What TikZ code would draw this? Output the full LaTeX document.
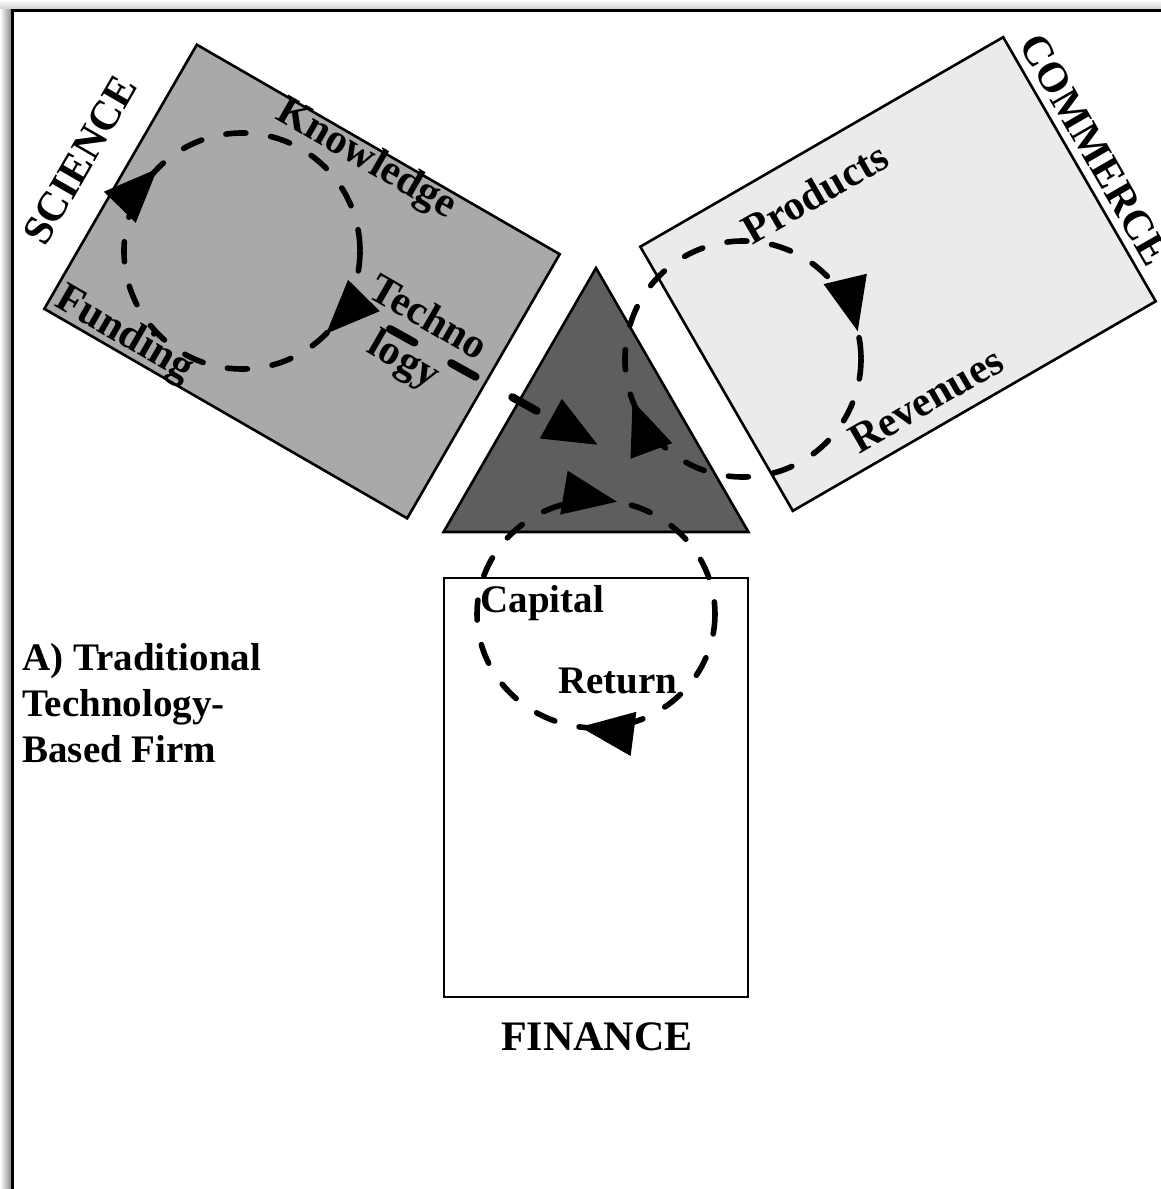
\documentclass[tikz,border=0pt]{standalone}
\usepackage{fontspec}
\setmainfont{Liberation Serif}
\usetikzlibrary{shapes.geometric,arrows.meta,decorations.markings}
\definecolor{scigray}{HTML}{A9A9A9}
\definecolor{comgray}{HTML}{EBEBEB}
\definecolor{trigray}{HTML}{5E5E5E}
\tikzset{
  blk/.style={rectangle,draw,line width=1.3pt,inner sep=0pt,minimum width=209.5pt,minimum height=152.5pt},
  tri/.style={regular polygon,regular polygon sides=3,draw,fill=trigray,line width=1.3pt,inner sep=0pt,minimum size=176pt},
  cyc/.style={line width=2.8pt,dash pattern=on 10pt off 12.5pt,line cap=round},
  tips/.style 2 args={postaction={decorate},decoration={markings,mark=at position #1 with {\arrow{>}},mark=at position #2 with {\arrow{>}}}},
  tline/.style={line width=4pt,dash pattern=on 14pt off 21pt,line cap=round},
  lbl/.style={font=\fontsize{21}{24}\selectfont\bfseries,inner sep=0pt},
  lbl2/.style={font=\fontsize{19.5}{23}\selectfont\bfseries,inner sep=0pt},
}
\begin{document}
\begin{tikzpicture}[x=0.5pt,y=-0.5pt,>={Triangle[length=27pt,width=21.5pt]}]
  \useasboundingbox (0,0) rectangle (1161,1189);
  \clip (0,0) rectangle (1161,1189);
  % frame with shadow
  \fill[top color=white,bottom color=black!18] (0,0) rectangle (1161,9);
  \fill[left color=white,right color=black!45] (0,9) rectangle (11,1189);
  \draw[line width=1.5pt] (12,1189) -- (12,10) -- (1161,10);
  % the three spheres and the firm
  \node[blk,fill=scigray,rotate=-30] (sci) at (302,281.5) {};
  \node[blk,fill=comgray,rotate=30] (com) at (898,274) {};
  \node[blk,fill=white,minimum width=152pt,minimum height=209.5pt] (fin) at (596,787.5) {};
  \node[tri] (firm) at (596,444) {};
  % labels
  \node[lbl,rotate=60] (scil) at (80,160) {SCIENCE};
  \node[lbl,rotate=-60] (coml) at (1095,150) {COMMERCE};
  \node[lbl,rotate=-30] (know) at (366,160) {Knowledge};
  \node[lbl,rotate=-30] (fund) at (124,335) {Funding};
  \node[lbl,rotate=-30,align=center] (tech) at (415,341) {Techno\\logy};
  \node[lbl,rotate=30] (prod) at (815,193) {Products};
  \node[lbl,rotate=30] (rev) at (926,400) {Revenues};
  \node[lbl2,anchor=base west] (capl) at (480,612) {Capital};
  \node[lbl2,anchor=base west] (retl) at (558,693) {Return};
  \node[lbl,anchor=base] (finl) at (597,1050) {FINANCE};
  \node[lbl2,align=left,anchor=north west] (ttl) at (22,643) {A) Traditional\\Technology-\\Based Firm};
  % loops
  \coordinate (sc) at (242,251);
  \coordinate (cc) at (743,359);
  \coordinate (fc) at (596,614);
  \draw[cyc,tips={0.124}{0.623}] (sc) circle[radius=118];
  \draw[cyc,tips={0.443}{0.9625}] (cc) circle[radius=118];
  \draw[cyc,tips={0.272}{0.779}] (fc) circle[x radius=119,y radius=114];
  % technology transfer
  \coordinate (t1) at (390,329);
  \coordinate (t2) at (598,445);
  \draw[tline,->] (t1) -- (t2);
\end{tikzpicture}
\end{document}
